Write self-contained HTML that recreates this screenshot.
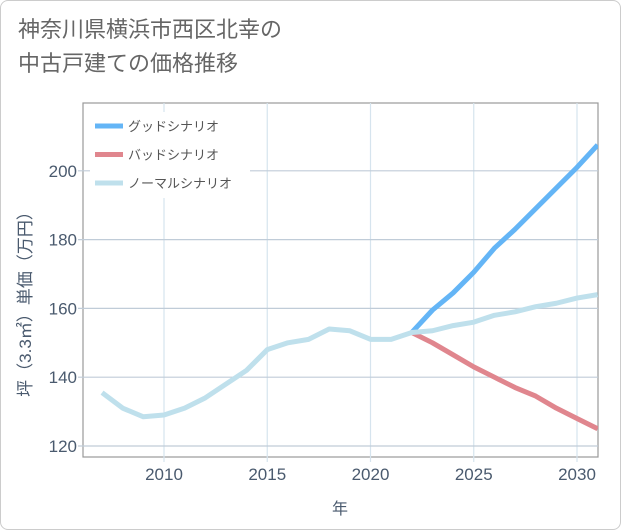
<!DOCTYPE html>
<html><head><meta charset="utf-8"><style>
body{margin:0;background:#fff;font-family:"Liberation Sans","Noto Sans CJK JP",sans-serif;}
#card{position:absolute;left:0;top:0;width:619px;height:528px;border:1px solid #ccc;border-radius:8px;background:#fff;}
#title{position:absolute;left:18px;top:13px;font-size:22px;line-height:34px;color:#666;}
svg{position:absolute;left:0;top:0;}
</style></head><body>
<div id="card"></div>
<div id="title">神奈川県横浜市西区北幸の<br>中古戸建ての価格推移</div>
<svg id="chart" width="621" height="530"></svg>
<script>
const years=[2007,2008,2009,2010,2011,2012,2013,2014,2015,2016,2017,2018,2019,2020,2021,2022,2023,2024,2025,2026,2027,2028,2029,2030,2031];
const normalVals=[135.5,131,128.5,129,131,134,138,142,148,150,151,154,153.5,151,151,153,153.5,155,156,158,159,160.5,161.5,163,164];
const scenarioYears=[2022,2023,2024,2025,2026,2027,2028,2029,2030,2031];
const goodVals=[153,159.5,164.5,170.5,177.5,183,189,195,201,207.5];
const badVals=[153,150,146.5,143,140,137,134.5,131,128,125];
const xTicks=[2010,2015,2020,2025,2030];
const yTicks=[120,140,160,180,200];
const legendLabels=["グッドシナリオ","バッドシナリオ","ノーマルシナリオ"];
const colors=["#64b5f6","#e0868e","#bfe0ec"];
const NS="http://www.w3.org/2000/svg";
const svg=document.getElementById('chart');
const L=83,R=598,T=103,B=457;
const x=v=>164+(v-2010)*20.65;
const y=v=>446-(v-120)*3.44;
function mk(t,a){const e=document.createElementNS(NS,t);for(const k in a)e.setAttribute(k,a[k]);svg.appendChild(e);return e;}
const frame=mk('rect',{x:L,y:T,width:R-L,height:B-T,fill:'none',stroke:'#999','stroke-width':1.2});


xTicks.forEach(t=>{
 const g=mk('line',{x1:x(t),x2:x(t),y1:T,y2:B+5,stroke:'#d6e4ee','stroke-width':1.2});
 
 
 const l=mk('text',{x:x(t),y:480,'text-anchor':'middle','font-size':17,fill:'#4a5a6e'});
 l.textContent=t;
 
 
});
yTicks.forEach(t=>{
 const g=mk('line',{x1:L-5,x2:R,y1:y(t),y2:y(t),stroke:'#c0ccd8','stroke-width':1.2});
 
 
 const l=mk('text',{x:77,y:y(t)+6,'text-anchor':'end','font-size':17,fill:'#4a5a6e'});
 l.textContent=t;
 
 
});
const clip=mk('clipPath',{id:'c'});clip.appendChild(document.createElementNS(NS,'rect'));
const cr=clip.firstChild;cr.setAttribute('x',L);cr.setAttribute('y',T);cr.setAttribute('width',R-L);cr.setAttribute('height',B-T);
function line(xs,vs,c,name){
 const p=mk('polyline',{points:xs.map((yr,i)=>x(yr)+','+y(vs[i])).join(' '),fill:'none',stroke:c,'stroke-width':5,'stroke-linejoin':'round','clip-path':'url(#c)'});
 
 
}
line(scenarioYears,badVals,colors[1],'bad-scenario-line');
line(scenarioYears,goodVals,colors[0],'good-scenario-line');
line(years,normalVals,colors[2],'normal-scenario-line');
const lb=mk('rect',{x:90,y:112,width:160,height:86,fill:'#fff'});


legendLabels.forEach((s,i)=>{
 const yy=126+i*28.5;
 const sw=mk('line',{x1:95,x2:123,y1:yy,y2:yy,stroke:colors[i],'stroke-width':5});
 
 
 const t=mk('text',{x:128,y:yy+5,'font-size':13,fill:'#555'});
 t.textContent=s;
 
 
});
const xt=mk('text',{x:340,y:514,'text-anchor':'middle','font-size':16,fill:'#4a5a6e'});
xt.textContent='年';


const yt=mk('text',{x:0,y:0,'text-anchor':'middle','font-size':17,fill:'#4a5a6e',transform:'translate(31,300) rotate(-90)'});
yt.textContent='坪（3.3㎡）単価（万円）';


</script>
</body></html>
